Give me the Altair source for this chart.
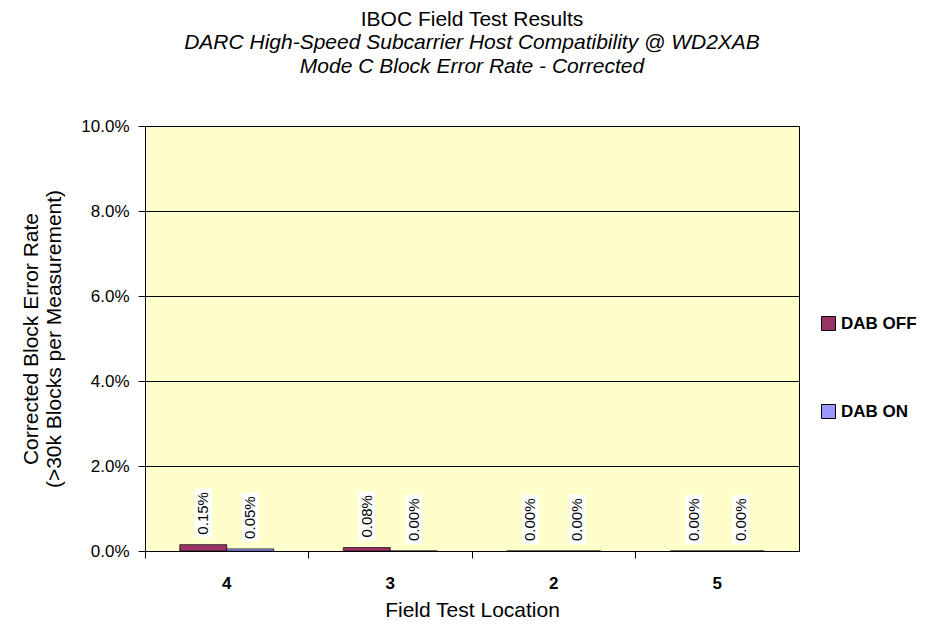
import altair as alt
import pandas as pd

locations = ["4", "3", "2", "5"]
conditions = ["DAB OFF", "DAB ON"]
dab_off = [0.0015, 0.0008, 0.0, 0.0]
dab_on = [0.0005, 0.0, 0.0, 0.0]
colors = ["#993366", "#9999FF"]
y_ticks = [0.0, 0.02, 0.04, 0.06, 0.08, 0.10]

rows = []
for i, loc in enumerate(locations):
    rows.append({"Location": loc, "Condition": "DAB OFF", "Rate": dab_off[i]})
    rows.append({"Location": loc, "Condition": "DAB ON", "Rate": dab_on[i]})
df = pd.DataFrame(rows)

FONT = "Liberation Sans"

x_main = alt.X(
    "Location:N", sort=locations,
    scale=alt.Scale(paddingInner=0, paddingOuter=0),
    axis=alt.Axis(title="Field Test Location", labelAngle=0, labelFontWeight="bold",
                  labelFontSize=17, titleFontSize=21, titleFontWeight="normal",
                  ticks=False, domainColor="black", labelColor="black",
                  titleColor="black", labelPadding=24, titlePadding=8, grid=False),
)
xoff = alt.XOffset("Condition:N", sort=conditions,
                   scale=alt.Scale(paddingInner=0, paddingOuter=0.74))
y_enc = alt.Y(
    "Rate:Q", scale=alt.Scale(domain=[0, 0.1], nice=False),
    axis=alt.Axis(values=y_ticks, format=".1%", grid=True, gridColor="black",
                  gridWidth=1, gridOpacity=1, domainColor="black", tickColor="black",
                  tickSize=7, labelPadding=9, labelFontSize=17, labelColor="black",
                  titleFontSize=21, titleFontWeight="normal", titleColor="black",
                  title=["Corrected Block Error Rate", "(>30k Blocks per Measurement)"],
                  titlePadding=16),
)

bars = alt.Chart(df).mark_bar(stroke="black", strokeWidth=0.7).encode(
    x=x_main, xOffset=xoff, y=y_enc,
    color=alt.Color("Condition:N", sort=conditions,
                    scale=alt.Scale(domain=conditions, range=colors),
                    legend=alt.Legend(title=None, orient="none", legendX=675, legendY=189,
                                      direction="vertical", symbolType="square",
                                      symbolSize=196, symbolStrokeColor="black",
                                      symbolStrokeWidth=1, labelFontSize=17,
                                      labelFontWeight="bold", labelColor="black",
                                      rowPadding=69, padding=0, labelOffset=4,
                                      labelLimit=200)),
)

boxes = alt.Chart(df).mark_bar(color="white", width=17, yOffset=-7, y2Offset=-56).encode(
    x=alt.X("Location:N", sort=locations, axis=None), xOffset=xoff,
    y=alt.Y("Rate:Q"), y2=alt.Y2("Rate:Q"),
)

labels = alt.Chart(df).mark_text(angle=270, align="left", baseline="middle", dx=10,
                                 fontSize=15, color="black").encode(
    x=alt.X("Location:N", sort=locations, axis=None), xOffset=xoff,
    y=alt.Y("Rate:Q"),
    text=alt.Text("Rate:Q", format=".2%"),
)

ticks_layer = alt.Chart(df).mark_point(opacity=0).encode(
    x=alt.X("Location:N", sort=locations,
            axis=alt.Axis(orient="bottom", labels=False, ticks=True, bandPosition=0,
                          tickSize=7, tickColor="black", domain=False, title=None,
                          grid=False)),
    y=alt.Y("Rate:Q"),
)

chart = alt.layer(bars, boxes, labels, ticks_layer).resolve_axis(x="independent").properties(
    width=654, height=425,
    title=alt.TitleParams(
        text="IBOC Field Test Results",
        subtitle=["DARC High-Speed Subcarrier Host Compatibility @ WD2XAB",
                  "Mode C Block Error Rate - Corrected"],
        fontSize=21, fontWeight="normal", color="black", font=FONT,
        subtitleFontSize=21, subtitleFontStyle="italic", subtitleColor="black",
        subtitleFont=FONT, subtitleLineHeight=24, subtitlePadding=2,
        anchor="middle", offset=40,
    ),
    autosize=alt.AutoSizeParams(type="none"),
    padding={"left": 137, "top": 118, "right": 131, "bottom": 71},
).configure(font=FONT).configure_view(fill="#FFFFCC", stroke="black", strokeWidth=1)

chart.save("out.html", embed_options={"renderer": "svg", "actions": False})
